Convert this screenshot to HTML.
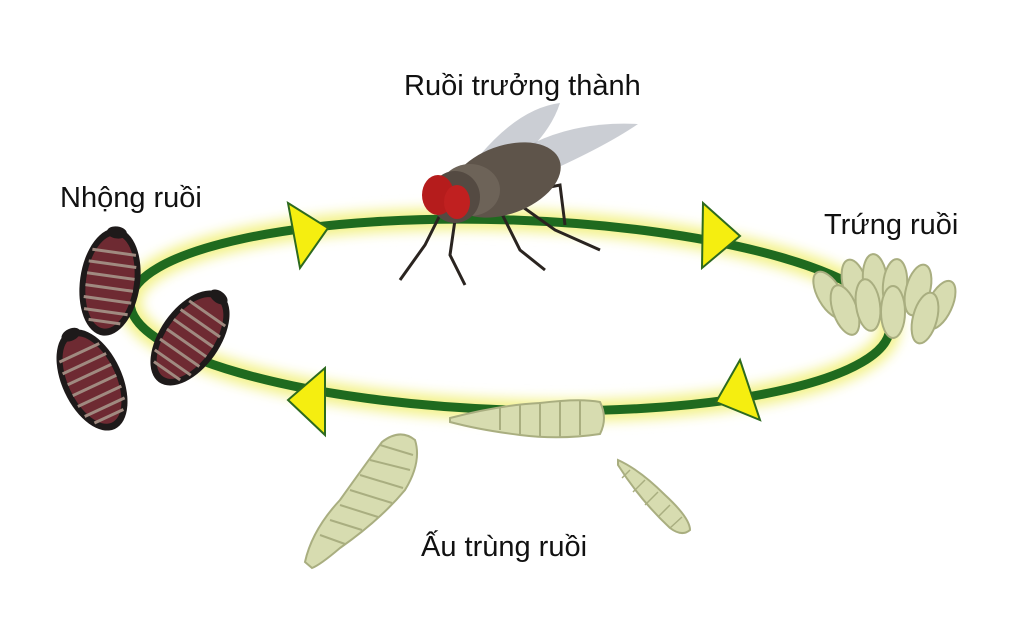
<!DOCTYPE html>
<html><head><meta charset="utf-8"><style>
html,body{margin:0;padding:0;background:#fff;}
svg{display:block}
text{font-family:"Liberation Sans","DejaVu Sans",sans-serif;font-size:29px;fill:#111}
</style></head><body>
<svg width="1024" height="621" viewBox="0 0 1024 621">
<defs>
<filter id="glow" x="-20%" y="-50%" width="140%" height="200%"><feGaussianBlur stdDeviation="6"/></filter>
<g id="pupa">
<ellipse cx="0" cy="0" rx="30" ry="54" fill="#1e1a1a"/>
<ellipse cx="0" cy="0" rx="24" ry="47" fill="#6e2a32"/>
<g stroke="#a08a80" stroke-width="3">
<line x1="-22" y1="-30" x2="22" y2="-30"/><line x1="-24" y1="-18" x2="24" y2="-18"/><line x1="-24" y1="-6" x2="24" y2="-6"/><line x1="-24" y1="6" x2="24" y2="6"/><line x1="-24" y1="18" x2="24" y2="18"/><line x1="-22" y1="30" x2="22" y2="30"/><line x1="-16" y1="40" x2="16" y2="40"/>
</g>
<ellipse cx="0" cy="-50" rx="10" ry="6" fill="#1e1a1a"/>
</g>
<g id="egg"><ellipse cx="0" cy="0" rx="12" ry="26" fill="#d7dcb0" stroke="#a9ae80" stroke-width="2"/></g>
</defs>
<g transform="rotate(2 510 315)">
<ellipse cx="510" cy="315" rx="380" ry="95" fill="none" stroke="#f3f28a" stroke-width="22" filter="url(#glow)"/>
<ellipse cx="510" cy="315" rx="380" ry="95" fill="none" stroke="#1f6a1f" stroke-width="9"/>
</g>
<polygon points="288,203 328,228 300,268" fill="#f5ee10" stroke="#2d6a1f" stroke-width="2"/>
<polygon points="703,203 740,236 702,268" fill="#f5ee10" stroke="#2d6a1f" stroke-width="2"/>
<polygon points="740,360 760,420 716,402" fill="#f5ee10" stroke="#2d6a1f" stroke-width="2"/>
<polygon points="325,368 288,400 325,435" fill="#f5ee10" stroke="#2d6a1f" stroke-width="2"/>
<g transform="translate(110,282) rotate(8)"><use href="#pupa"/></g>
<g transform="translate(92,380) rotate(-25)"><use href="#pupa"/></g>
<g transform="translate(190,338) rotate(35)"><use href="#pupa"/></g>
<g transform="translate(830,295) rotate(-30)"><use href="#egg"/></g>
<g transform="translate(855,285) rotate(-15)"><use href="#egg"/></g>
<g transform="translate(875,280) rotate(-5)"><use href="#egg"/></g>
<g transform="translate(895,285) rotate(5)"><use href="#egg"/></g>
<g transform="translate(918,290) rotate(15)"><use href="#egg"/></g>
<g transform="translate(940,305) rotate(25)"><use href="#egg"/></g>
<g transform="translate(845,310) rotate(-20)"><use href="#egg"/></g>
<g transform="translate(893,312) rotate(0)"><use href="#egg"/></g>
<g transform="translate(925,318) rotate(15)"><use href="#egg"/></g>
<g transform="translate(868,305) rotate(-8)"><use href="#egg"/></g>
<path d="M450,418 Q500,405 540,403 Q580,398 600,402 Q608,418 600,434 Q560,440 520,435 Q480,430 450,422 Z" fill="#d7dcb0" stroke="#a9ae80" stroke-width="2"/>
<g stroke="#a9ae80" stroke-width="2"><line x1="500" y1="408" x2="500" y2="430"/><line x1="520" y1="404" x2="520" y2="434"/><line x1="540" y1="402" x2="540" y2="436"/><line x1="560" y1="401" x2="560" y2="437"/><line x1="580" y1="401" x2="580" y2="435"/></g>
<path d="M305,562 Q312,530 340,500 Q365,465 382,442 Q400,428 415,440 Q422,462 405,490 Q380,520 340,548 Q320,565 312,568 Z" fill="#d7dcb0" stroke="#a9ae80" stroke-width="2"/>
<g stroke="#a9ae80" stroke-width="2"><line x1="380" y1="445" x2="413" y2="455"/><line x1="370" y1="460" x2="410" y2="470"/><line x1="360" y1="475" x2="403" y2="488"/><line x1="350" y1="490" x2="392" y2="503"/><line x1="340" y1="505" x2="378" y2="517"/><line x1="330" y1="520" x2="362" y2="530"/><line x1="320" y1="535" x2="345" y2="544"/></g>
<path d="M618,460 Q640,470 665,495 Q690,518 690,530 Q682,537 670,528 Q640,500 618,465 Z" fill="#d7dcb0" stroke="#a9ae80" stroke-width="2"/>
<g stroke="#a9ae80" stroke-width="1.5"><line x1="630" y1="470" x2="622" y2="478"/><line x1="645" y1="480" x2="633" y2="492"/><line x1="658" y1="492" x2="645" y2="505"/><line x1="670" y1="505" x2="658" y2="517"/><line x1="682" y1="517" x2="670" y2="528"/></g>
<g>
<path d="M505,160 Q560,120 638,124 Q600,150 525,182 Z" fill="#b9bec6" opacity="0.75"/>
<path d="M480,155 Q520,108 560,103 Q548,140 505,170 Z" fill="#b9bec6" opacity="0.75"/>
<g stroke="#2a2420" stroke-width="3" fill="none">
<path d="M440,215 L425,245 L400,280"/><path d="M455,220 L450,255 L465,285"/><path d="M500,210 L520,250 L545,270"/><path d="M520,205 L555,230 L600,250"/><path d="M535,190 L560,185 L565,225"/>
</g>
<ellipse cx="505" cy="180" rx="58" ry="34" fill="#5e544a" transform="rotate(-20 505 180)"/>
<ellipse cx="470" cy="190" rx="30" ry="26" fill="#6d6358"/>
<ellipse cx="455" cy="197" rx="25" ry="26" fill="#544a42"/>
<ellipse cx="438" cy="195" rx="16" ry="20" fill="#b51c1c"/>
<ellipse cx="457" cy="202" rx="13" ry="17" fill="#c02020"/>
</g>
<text x="404" y="95">Ruồi trưởng thành</text>
<text x="60" y="207">Nhộng ruồi</text>
<text x="824" y="234">Trứng ruồi</text>
<text x="421" y="556">Ấu trùng ruồi</text>
</svg>
</body></html>
